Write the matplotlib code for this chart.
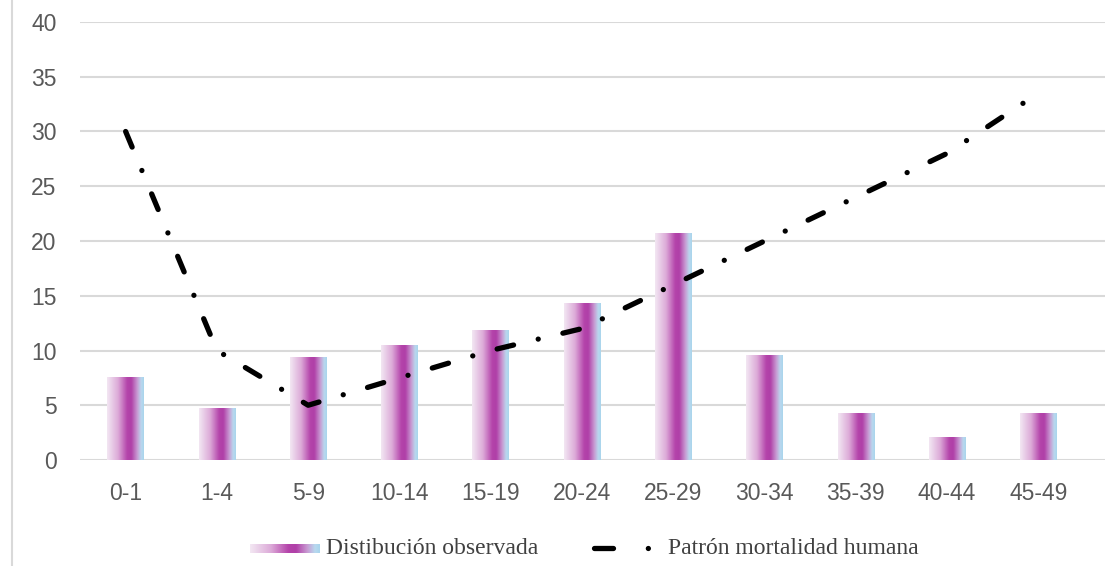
import numpy as np
import matplotlib.pyplot as plt
from matplotlib.colors import LinearSegmentedColormap
from matplotlib.lines import Line2D

# age groups and the two series
grupos = ['0-1', '1-4', '5-9', '10-14', '15-19', '20-24', '25-29',
          '30-34', '35-39', '40-44', '45-49']
observada = [7.6, 4.75, 9.4, 10.5, 11.9, 14.3, 20.7, 9.6, 4.3, 2.1, 4.3]
patron = [30, 10, 5, 7.5, 10, 12, 16, 20, 24, 28, 33.5]

W, H = 1105, 566
gris = '#595959'
rejilla = '#d9d9d9'

# pink -> magenta -> light blue, left to right across each bar
grad = LinearSegmentedColormap.from_list('barra', [
    (0.0, '#f3e8f3'), (0.3, '#dcaad8'), (0.55, '#b443aa'), (0.66, '#b040a8'),
    (0.82, '#c89ad2'), (0.93, '#b9d9ef'), (1.0, '#a8d4ec')])
franja = np.linspace(0, 1, 256).reshape(1, -1)

fig = plt.figure(figsize=(W / 100, H / 100), dpi=100)
ax = fig.add_axes([80 / W, (H - 460) / H, (W - 80) / W, 438 / H])

x = np.arange(len(grupos))
barras = ax.bar(x, observada, width=0.4, color='none', edgecolor='none', zorder=2)
for b in barras:
    x0, y0 = b.get_x(), b.get_y()
    im = ax.imshow(franja, cmap=grad, aspect='auto', interpolation='bicubic',
                   extent=(x0, x0 + b.get_width(), y0, y0 + b.get_height()),
                   zorder=2)
    im.set_clip_path(b)

lw = 3.8
ax.plot(x, patron, color='black', lw=lw, dashes=(3.2, 4.8, 0.01, 4.8),
        dash_capstyle='round', solid_capstyle='round', zorder=3)

# gridlines run a little past the last group
ax.set_xlim(-0.5, 10.73)
ax.set_ylim(0, 40)
ax.set_yticks(range(0, 41, 5))
ax.set_xticks(x)
ax.set_xticklabels(grupos)
ax.yaxis.grid(True, color=rejilla, lw=1.5)
ax.set_axisbelow(True)
for s in ax.spines.values():
    s.set_visible(False)
ax.tick_params(length=0, colors=gris, labelsize=16.5)
ax.tick_params(axis='y', pad=17)
ax.tick_params(axis='x', pad=16)
for t in ax.get_xticklabels() + ax.get_yticklabels():
    t.set_fontfamily('Liberation Sans')

# thin frame line on the left of the chart area
fig.add_artist(Line2D([12 / W, 12 / W], [0, 1], color=rejilla, lw=1.5,
                      transform=fig.transFigure))

# legend drawn along the bottom
ly = (H - 549) / H
cax = fig.add_axes([250 / W, (H - 553) / H, 70 / W, 9 / H])
cax.imshow(franja, cmap=grad, aspect='auto', interpolation='bicubic')
cax.axis('off')
fig.text(326 / W, ly, 'Distibución observada', family='Liberation Serif',
         fontsize=17, color='#404040', va='center')
fig.add_artist(Line2D([594 / W, 653 / W], [ly + 1 / H, ly + 1 / H], color='black',
                      lw=lw, dashes=(3.6, 6.6, 0.01, 10), dash_capstyle='round',
                      transform=fig.transFigure))
fig.text(668 / W, ly, 'Patrón mortalidad humana', family='Liberation Serif',
         fontsize=17, color='#404040', va='center')

fig.savefig('out.png', dpi=100)
